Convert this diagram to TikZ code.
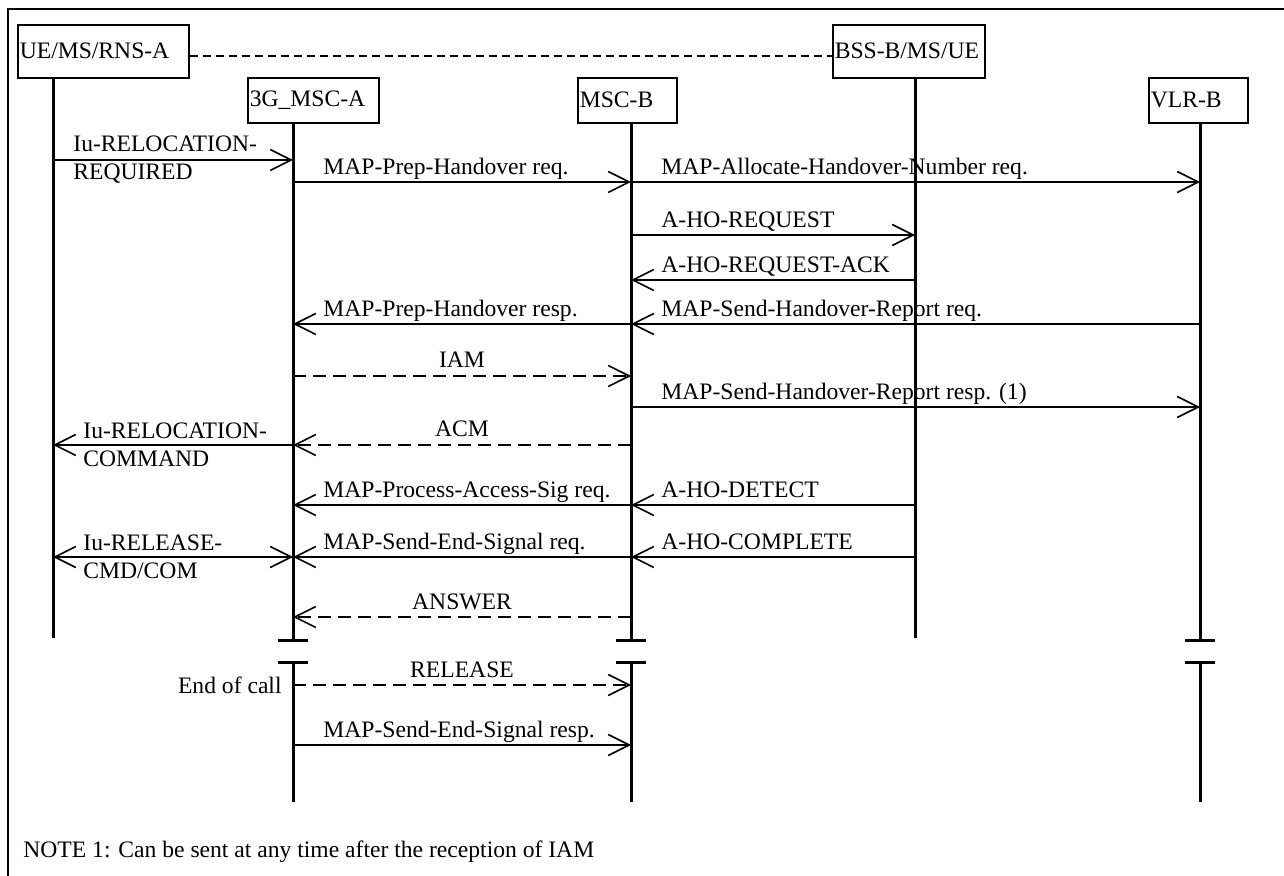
\documentclass[tikz,border=0pt]{standalone}
\usepackage{fontspec}
\setmainfont{Liberation Serif}
\usetikzlibrary{positioning,calc,arrows.meta}
\tikzset{>={Straight Barb[length=10.5pt,width=10.5pt]},
         actor/.style = {draw,line width=0.8pt,anchor=north west,inner xsep=1pt,inner ysep=0pt,align=left},
         life/.style = {line width=1.5pt},
         msg/.style = {->,line width=0.8pt},
         reply/.style = {msg,dash pattern=on 6.5pt off 3.5pt},
         lbl/.style = {anchor=base west,inner sep=0pt},
         mid/.style = {anchor=base,inner sep=0pt},
         two/.style = {anchor=west,inner sep=0pt,align=left,font=\fontsize{11.8pt}{14pt}\selectfont}}

\begin{document}
\begin{tikzpicture}[x=0.5pt,y=-0.5pt,font=\fontsize{11.8pt}{13pt}\selectfont]
\useasboundingbox (0,0) rectangle (1284,876);
\draw[line width=1pt] (8,876) -- (8,9) -- (1284,9);

\node[actor,text width=83.5pt,minimum height=26.5pt] (ue) at (17,24) {UE/MS/RNS-A};
\node[actor,text width=63.5pt,minimum height=22.5pt] (msca) at (247,77) {3G\_MSC-A};
\node[actor,text width=47.5pt,minimum height=22.5pt] (mscb) at (577,77) {MSC-B};
\node[actor,text width=74pt,minimum height=26.5pt] (bss) at (832,24) {BSS-B/MS/UE};
\node[actor,text width=47.5pt,minimum height=22.5pt] (vlr) at (1148,77) {VLR-B};
\draw[line width=0.8pt,dash pattern=on 4pt off 2.5pt] ([yshift=-2.25pt]ue.east) -- ([yshift=-2.25pt]bss.west);

\foreach \n/\x/\y/\e in {ue/53/77/638,msca/293/122/640,mscb/631/122/640,bss/915/77/638,vlr/1200/122/640} {
    \coordinate (t\n) at (\x,\y);
    \coordinate (e\n) at (\x,\e);
    \draw[life] (t\n) -- (e\n);
}
\foreach \n in {msca,mscb,vlr} {
    \coordinate (s\n) at ($(e\n)+(0,22)$);
    \coordinate (f\n) at ($(e\n)+(0,162)$);
    \draw[life] (s\n) -- (f\n);
    \draw[life] ($(e\n)+(-15,0)$) -- ($(e\n)+(15,0)$);
    \draw[life] ($(s\n)+(-15,0)$) -- ($(s\n)+(15,0)$);
}

\foreach \p/\q/\y/\lft/\txt in {
    msca/mscb/182/msca/MAP-Prep-Handover req.,
    mscb/vlr/182/mscb/MAP-Allocate-Handover-Number req.,
    mscb/bss/235/mscb/A-HO-REQUEST,
    bss/mscb/280/mscb/A-HO-REQUEST-ACK,
    mscb/msca/324/msca/MAP-Prep-Handover resp.,
    vlr/mscb/324/mscb/MAP-Send-Handover-Report req.,
    mscb/vlr/407/mscb/MAP-Send-Handover-Report resp. (1),
    mscb/msca/505/msca/MAP-Process-Access-Sig req.,
    bss/mscb/505/mscb/A-HO-DETECT,
    mscb/msca/557/msca/MAP-Send-End-Signal req.,
    bss/mscb/557/mscb/A-HO-COMPLETE,
    msca/mscb/745/msca/MAP-Send-End-Signal resp.} {
    \draw[msg] (t\p |- 0,\y) -- (t\q |- 0,\y);
    \node[lbl] at ($(t\lft |- 0,\y)+(30,-7.5)$) {\txt};
}

\foreach \p/\q/\y/\txt in {msca/mscb/376/IAM, mscb/msca/445/ACM, mscb/msca/617/ANSWER, msca/mscb/685/RELEASE} {
    \draw[reply] (t\p |- 0,\y) -- (t\q |- 0,\y);
    \node[mid] at ($(tmsca |- 0,\y)!0.5!(tmscb |- 0,\y)+(0,-8)$) {\txt};
}

\draw[msg] (tue |- 0,160) -- (tmsca |- 0,160);
\node[two] at ($(tue |- 0,160)+(20,0)$) {Iu-RELOCATION-\\REQUIRED};
\draw[msg] (tmsca |- 0,445) -- (tue |- 0,445);
\node[two] at ($(tue |- 0,445)+(30,0)$) {Iu-RELOCATION-\\COMMAND};
\draw[msg,<->] (tue |- 0,557) -- (tmsca |- 0,557);
\node[two] at ($(tue |- 0,557)+(30,0)$) {Iu-RELEASE-\\CMD/COM};

\node[anchor=east,inner sep=0pt] (eoc) at ($(tmsca |- 0,685)+(-11,0)$) {End of call};
\node[lbl] (note) at (23,857) {NOTE 1: Can be sent at any time after the reception of IAM};
\end{tikzpicture}
\end{document}
